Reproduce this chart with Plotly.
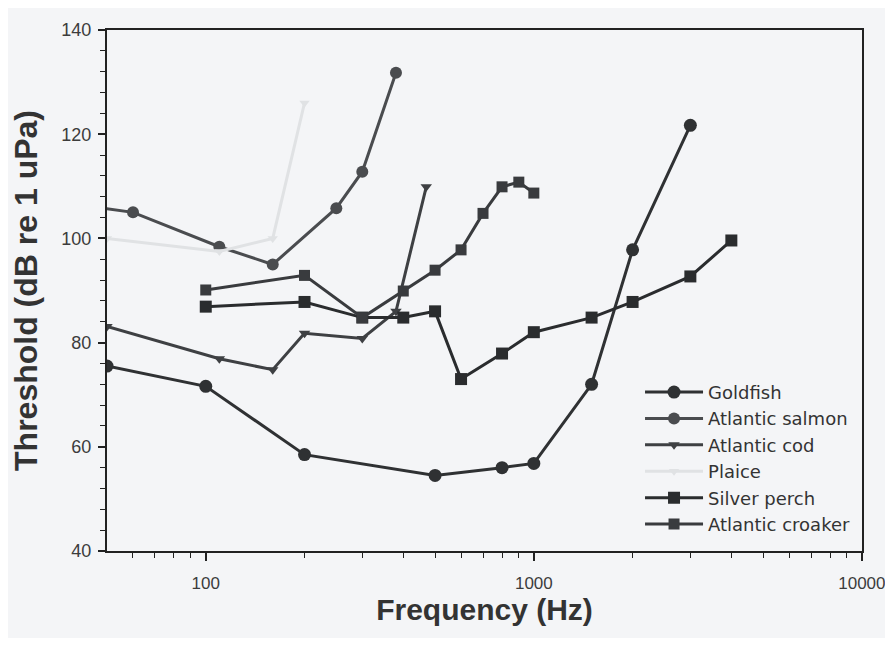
import plotly.graph_objects as go

# ---- data ----
goldfish_f = [50, 100, 200, 500, 800, 1000, 1500, 2000, 3000]
goldfish_db = [75.5, 71.6, 58.5, 54.5, 56.0, 56.8, 72.0, 97.8, 121.7]

salmon_f = [40, 60, 110, 160, 250, 300, 380]
salmon_db = [106.5, 105.0, 98.4, 95.0, 105.8, 112.8, 131.8]

cod_f = [50, 110, 160, 200, 300, 380, 470]
cod_db = [83.1, 76.9, 74.8, 81.8, 80.8, 86.0, 109.9]

plaice_f = [50, 110, 160, 200]
plaice_db = [100.0, 97.5, 100.0, 126.0]

perch_f = [100, 200, 300, 400, 500, 600, 800, 1000, 1500, 2000, 3000, 4000]
perch_db = [86.9, 87.8, 84.8, 84.8, 86.0, 73.0, 77.9, 82.0, 84.8, 87.8, 92.7, 99.6]

croaker_f = [100, 200, 300, 400, 500, 600, 700, 800, 900, 1000]
croaker_db = [90.1, 92.9, 84.8, 89.9, 93.9, 97.8, 104.8, 109.9, 110.8, 108.7]

x_tickvals = [100, 1000, 10000]
x_ticktext = ["100", "1000", "10000"]
x_minor_vals = [60, 70, 80, 90,
                200, 300, 400, 500, 600, 700, 800, 900,
                2000, 3000, 4000, 5000, 6000, 7000, 8000, 9000]
y_tickvals = [40, 60, 80, 100, 120, 140]

series = [
    ("Goldfish", goldfish_f, goldfish_db, "#2f3133", "circle", 13),
    ("Atlantic salmon", salmon_f, salmon_db, "#4a4c4f", "circle", 12),
    ("Atlantic cod", cod_f, cod_db, "#3e4043", "triangle-down", 10),
    ("Plaice", plaice_f, plaice_db, "#e0e2e4", "triangle-down", 9),
    ("Silver perch", perch_f, perch_db, "#2a2c2e", "square", 12),
    ("Atlantic croaker", croaker_f, croaker_db, "#393b3e", "square", 11),
]

fig = go.Figure()
for name, fx, fy, col, sym, sz in series:
    fig.add_trace(go.Scatter(
        x=fx, y=fy, name=name, mode="lines+markers",
        line=dict(color=col, width=3),
        marker=dict(color=col, symbol=sym, size=sz),
        cliponaxis=True,
    ))

FONT = "Liberation Sans, Arial, sans-serif"

fig.update_layout(
    width=877, height=630,
    margin=dict(l=99, r=23, t=12, b=87),
    paper_bgcolor="#f4f5f7",
    plot_bgcolor="#f4f5f7",
    showlegend=True,
    legend=dict(
        x=0.706, y=0.34, xanchor="left", yanchor="top",
        bgcolor="rgba(0,0,0,0)",
        font=dict(family="DejaVu Sans, sans-serif", size=18, color="#333333"),
        itemwidth=58,
        tracegroupgap=0,
    ),
    xaxis=dict(
        type="log", range=[1.69897, 4.0003],
        automargin=False,
        tickvals=x_tickvals, ticktext=x_ticktext,
        ticks="outside", ticklen=8, tickwidth=1.5, tickcolor="#222",
        ticklabelstandoff=8,
        ticklabeloverflow="allow",
        minor=dict(tickvals=x_minor_vals, ticks="outside", ticklen=5, tickwidth=1,
                   tickcolor="#222", showgrid=False),
        showgrid=False, zeroline=False,
        showline=True, linecolor="#222", linewidth=2, mirror=True,
        tickfont=dict(family=FONT, size=17, color="#3c3c3c"),
        title=dict(text="<b>Frequency (Hz)</b>",
                   font=dict(family=FONT, size=30, color="#333333"), standoff=2),
    ),
    yaxis=dict(
        range=[40, 140],
        tickvals=y_tickvals,
        ticks="outside", ticklen=7, tickwidth=1.5, tickcolor="#222",
        ticklabelstandoff=3,
        minor=dict(dtick=4, ticks="outside", ticklen=5, tickwidth=1, tickcolor="#222", showgrid=False),
        showgrid=False, zeroline=False,
        showline=True, linecolor="#222", linewidth=2, mirror=True,
        tickfont=dict(family=FONT, size=18, color="#3c3c3c"),
        title=dict(text="<b>Threshold (dB re 1 uPa)</b>",
                   font=dict(family=FONT, size=32, color="#333333"), standoff=17),
    ),
)

fig.write_html("out.html")
